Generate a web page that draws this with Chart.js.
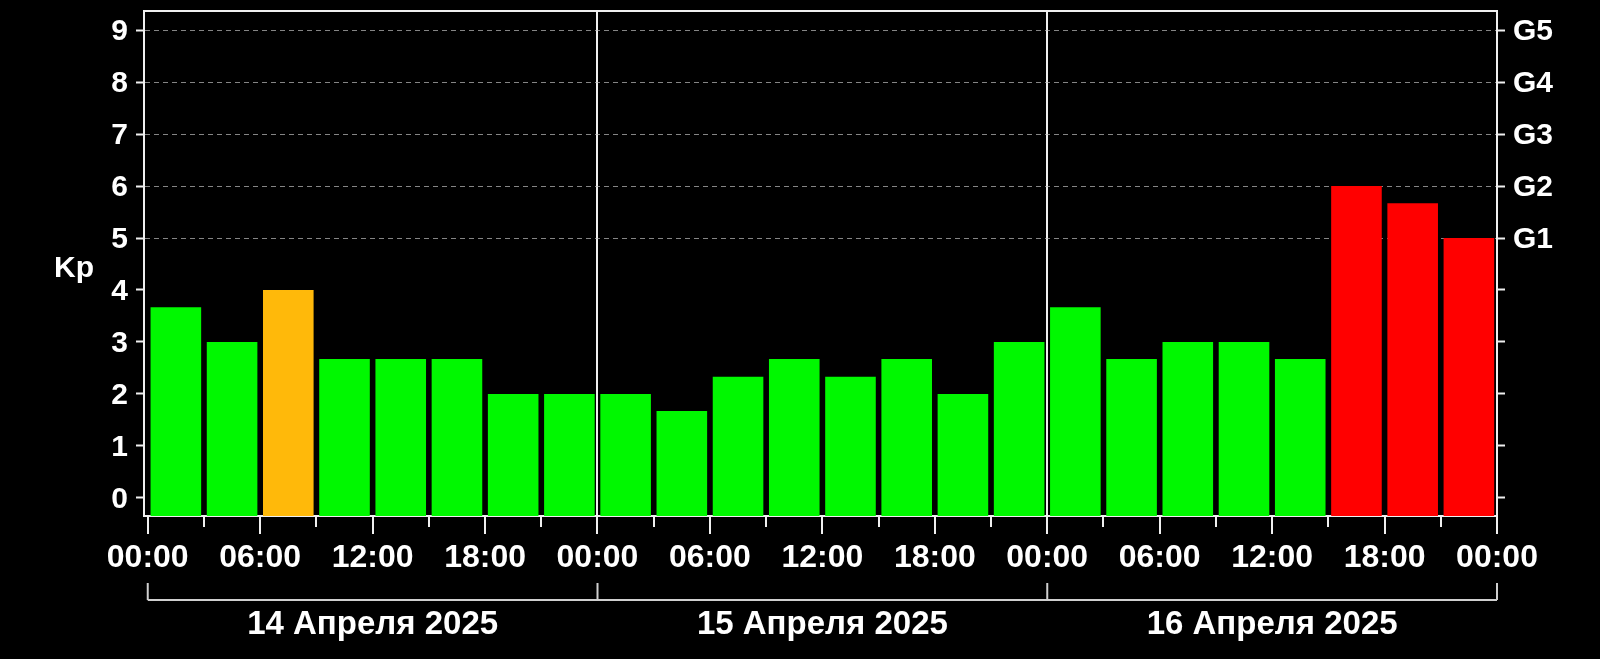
<!DOCTYPE html>
<html>
<head>
<meta charset="utf-8">
<script src="https://cdn.jsdelivr.net/npm/chart.js@4.4.1/dist/chart.umd.min.js"></script>
<style>
  html, body { margin: 0; padding: 0; background: #000; }
  #wrap { width: 1600px; height: 659px; }
</style>
</head>
<body>
<div id="wrap"><canvas id="c" width="1600" height="659"></canvas></div>
<script>
// ---- Data (Kp index, 3-hour intervals) ----
const kpApr14 = [3.67, 3.0, 4.0, 2.67, 2.67, 2.67, 2.0, 2.0];
const kpApr15 = [2.0, 1.67, 2.33, 2.67, 2.33, 2.67, 2.0, 3.0];
const kpApr16 = [3.67, 2.67, 3.0, 3.0, 2.67, 6.0, 5.67, 5.0];
const dayLabels = ['14 Апреля 2025', '15 Апреля 2025', '16 Апреля 2025'];
const timeTickLabels = ['00:00', '06:00', '12:00', '18:00', '00:00', '06:00', '12:00', '18:00', '00:00', '06:00', '12:00', '18:00', '00:00'];
const kpTickLabels = ['0', '1', '2', '3', '4', '5', '6', '7', '8', '9'];
const stormTickLabels = { 5: 'G1', 6: 'G2', 7: 'G3', 8: 'G4', 9: 'G5' };
const yAxisTitle = 'Kp';

const HOURS_PER_BAR = 3;
const HOURS_PER_DAY = 24;
const allKp = [...kpApr14, ...kpApr15, ...kpApr16];
const points = allKp.map((v, i) => ({ x: i * HOURS_PER_BAR + HOURS_PER_BAR / 2, y: v }));

const Y_MIN = -0.35, Y_MAX = 9.37;
const X_MIN = -0.2, X_MAX = 72;

function kpColor(v) {
  if (v >= 5) return '#ff0000';
  if (v >= 4) return '#ffb90a';
  return '#00f800';
}

const FAMILY = "'Liberation Sans', Arial, sans-serif";
const FONT_Y = { family: FAMILY, weight: 'bold', size: 30 };
const FONT_X = { family: FAMILY, weight: 'bold', size: 32 };
const DAY_FONT_SIZE = 33;

const extras = {
  id: 'extras',
  afterDraw(chart) {
    const ctx = chart.ctx;
    const area = chart.chartArea;
    const xs = chart.scales.x;
    ctx.save();
    // top frame line
    ctx.strokeStyle = '#f0f0f0';
    ctx.lineWidth = 2;
    ctx.beginPath();
    ctx.moveTo(area.left - 1, area.top);
    ctx.lineTo(area.right + 1, area.top);
    ctx.stroke();
    // date bracket
    const yLine = 600, yEnd = 583;
    ctx.strokeStyle = '#cfcfcf';
    ctx.lineWidth = 2;
    ctx.beginPath();
    ctx.moveTo(xs.getPixelForValue(0), yLine);
    ctx.lineTo(xs.getPixelForValue(dayLabels.length * HOURS_PER_DAY), yLine);
    ctx.stroke();
    for (let d = 0; d <= dayLabels.length; d++) {
      const px = xs.getPixelForValue(d * HOURS_PER_DAY);
      ctx.beginPath();
      ctx.moveTo(px, yEnd);
      ctx.lineTo(px, yLine);
      ctx.stroke();
    }
    // day labels
    ctx.fillStyle = '#ffffff';
    ctx.font = `bold ${DAY_FONT_SIZE}px ${FAMILY}`;
    ctx.textAlign = 'center';
    ctx.textBaseline = 'middle';
    dayLabels.forEach((lab, d) => {
      ctx.fillText(lab, xs.getPixelForValue(d * HOURS_PER_DAY + HOURS_PER_DAY / 2), 625);
    });
    // y title (horizontal)
    ctx.font = `bold 30px ${FAMILY}`;
    ctx.fillText(yAxisTitle, 74, 269);
    ctx.restore();
  }
};

function noPad(s) { s.paddingTop = 0; s.paddingBottom = 0; s.paddingLeft = 0; s.paddingRight = 0; }

new Chart(document.getElementById('c'), {
  type: 'bar',
  data: {
    datasets: [{
      data: points,
      base: Y_MIN,
      backgroundColor: ctx => kpColor(ctx.raw ? ctx.raw.y : 0),
      borderWidth: 0,
      categoryPercentage: 1.0,
      barPercentage: 0.9
    }]
  },
  options: {
    responsive: false,
    animation: false,
    devicePixelRatio: 1,
    layout: { padding: { top: 11, left: 0, right: 0, bottom: 0 } },
    plugins: { legend: { display: false }, tooltip: { enabled: false } },
    scales: {
      x: {
        type: 'linear',
        position: 'bottom',
        offset: false,
        min: X_MIN,
        max: X_MAX,
        afterFit: s => { s.height = 659 - 516; noPad(s); },
        afterBuildTicks: s => {
          const t = [];
          for (let h = 0; h <= X_MAX; h += HOURS_PER_BAR) t.push({ value: h });
          s.ticks = t;
        },
        ticks: {
          autoSkip: false,
          maxRotation: 0,
          color: '#ffffff',
          font: FONT_X,
          padding: 5,
          callback: v => (v % 6 === 0 ? timeTickLabels[v / 6] : '')
        },
        grid: {
          offset: false,
          drawTicks: true,
          tickLength: 18,
          tickWidth: 2,
          tickColor: '#f0f0f0',
          lineWidth: 2,
          color: c => (c.tick && c.tick.value % HOURS_PER_DAY === 0 && c.tick.value > 0 && c.tick.value < X_MAX) ? '#f0f0f0' : 'rgba(0,0,0,0)',
          tickBorderDash: c => (c.tick && c.tick.value % 6 !== 0) ? [10, 100] : []
        },
        border: { display: true, color: '#f0f0f0', width: 2 }
      },
      y: {
        type: 'linear',
        position: 'left',
        min: Y_MIN,
        max: Y_MAX,
        afterFit: s => { s.width = 144; noPad(s); },
        afterBuildTicks: s => { s.ticks = kpTickLabels.map((_, i) => ({ value: i })); },
        ticks: {
          color: '#ffffff',
          font: FONT_Y,
          padding: 8,
          labelOffset: 2,
          callback: v => kpTickLabels[v]
        },
        grid: {
          tickLength: 8,
          tickWidth: 2,
          tickColor: '#f0f0f0',
          lineWidth: 1,
          color: c => (c.tick && c.tick.value >= 5) ? 'rgba(190,190,190,0.7)' : 'rgba(0,0,0,0)'
        },
        border: { display: true, color: '#f0f0f0', width: 2, dash: [5, 4] }
      },
      y2: {
        type: 'linear',
        position: 'right',
        min: Y_MIN,
        max: Y_MAX,
        afterFit: s => { s.width = 1600 - 1497; noPad(s); },
        afterBuildTicks: s => { s.ticks = kpTickLabels.map((_, i) => ({ value: i })); },
        ticks: {
          color: '#ffffff',
          font: FONT_Y,
          padding: 8,
          labelOffset: 2,
          callback: v => stormTickLabels[v] || ''
        },
        grid: {
          drawOnChartArea: false,
          tickLength: 8,
          tickWidth: 2,
          tickColor: '#f0f0f0'
        },
        border: { display: true, color: '#f0f0f0', width: 2 }
      }
    }
  },
  plugins: [extras]
});
</script>
</body>
</html>
